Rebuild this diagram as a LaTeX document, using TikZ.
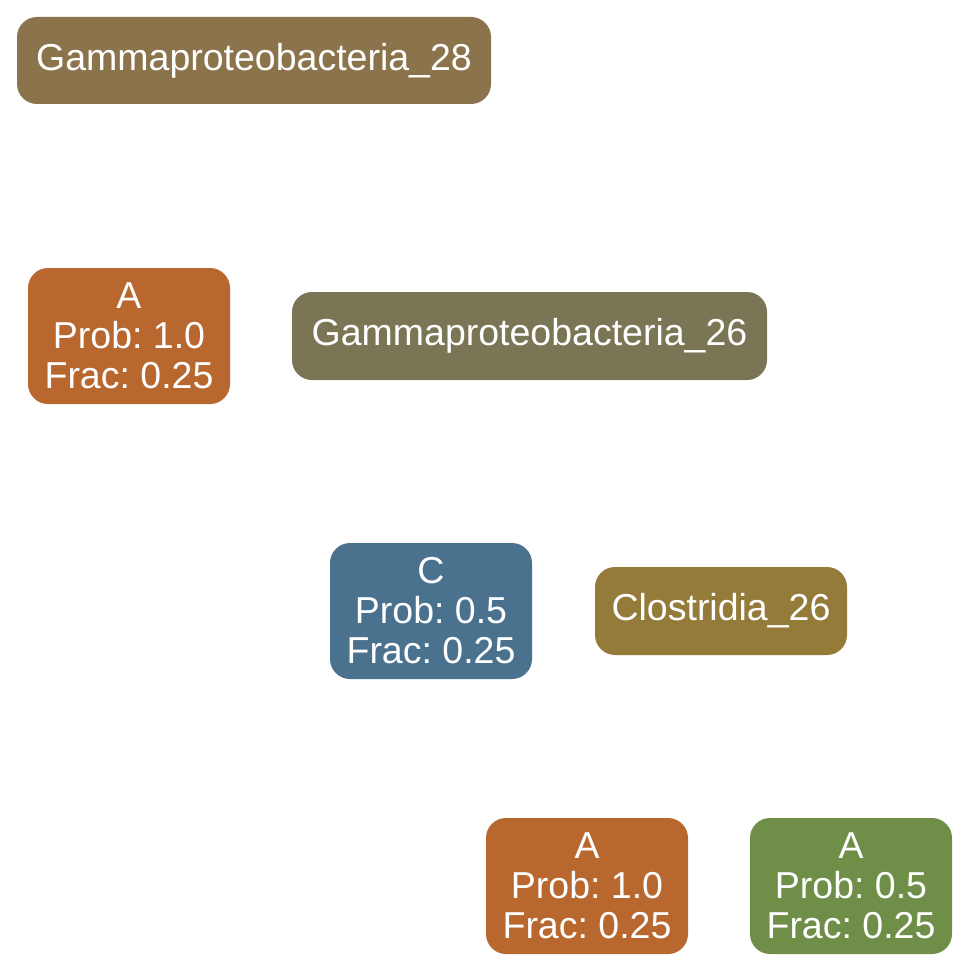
\documentclass[tikz,border=0pt]{standalone}
\usepackage{fontspec}
\setmainfont{Liberation Sans}
\definecolor{cgA}{HTML}{8B734B}
\definecolor{cA}{HTML}{B8672F}
\definecolor{cgB}{HTML}{7A7655}
\definecolor{cC}{HTML}{4A718E}
\definecolor{cCl}{HTML}{957B3A}
\definecolor{cG}{HTML}{6F8E47}
\tikzset{
  box/.style={rounded corners=20pt, inner sep=0pt, text=white, align=center,
    font=\fontsize{37.5}{40}\selectfont\frenchspacing},
  wide/.style={box, minimum height=87pt},
  tall/.style={box, minimum width=202pt, minimum height=136pt}
}
\begin{document}
\begin{tikzpicture}[x=1pt,y=-1pt]
\useasboundingbox (0,0) rectangle (969,971);
\node[wide, fill=cgA, minimum width=474pt] (g28) at (254,60.5) {\raisebox{-1.5pt}{Gammaproteobacteria\_28}};
\node[tall, fill=cA] (a1) at (129,336) {A\\Prob: 1.0\\Frac: 0.25};
\node[wide, fill=cgB, minimum width=475pt, minimum height=88pt] (g26) at (529.5,336) {\raisebox{-1.5pt}{Gammaproteobacteria\_26}};
\node[tall, fill=cC] (c) at (431,611) {C\\Prob: 0.5\\Frac: 0.25};
\node[wide, fill=cCl, minimum width=252pt, minimum height=88pt] (cl) at (721,611) {\raisebox{-1.5pt}{Clostridia\_26}};
\node[tall, fill=cA] (a2) at (587,886) {A\\Prob: 1.0\\Frac: 0.25};
\node[tall, fill=cG] (a3) at (851,886) {A\\Prob: 0.5\\Frac: 0.25};
\end{tikzpicture}
\end{document}
